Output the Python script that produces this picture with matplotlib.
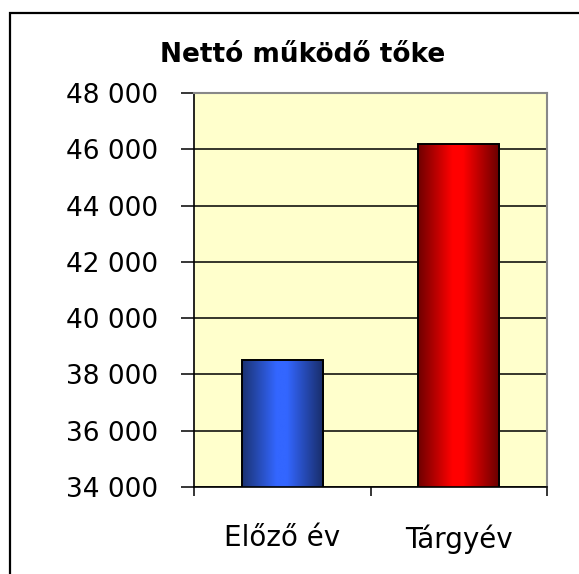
import matplotlib.pyplot as plt
import numpy as np
from matplotlib.colors import LinearSegmentedColormap
from matplotlib.patches import Rectangle

# adatok
categories = ['Előző év', 'Tárgyév']
values = [38530, 46180]
yticks = [34000, 36000, 38000, 40000, 42000, 44000, 46000, 48000]
ytick_labels = ['34 000', '36 000', '38 000', '40 000', '42 000', '44 000', '46 000', '48 000']
title = 'Nettó működő tőke'

# oszlop szinek (sotet szel, vilagos kozep)
bar_colors = [('#1b3372', '#3366ff', '#182c66'),
              ('#6e0000', '#ff0000', '#660000')]

plt.rcParams['font.family'] = ['DejaVu Sans']
fs = 19

fig = plt.figure(figsize=(5.79, 5.74), dpi=100)
ax = fig.add_axes([194/579, 87/574, 353/579, 394/574])
ax.set_facecolor('#ffffcc')

x = np.arange(len(categories))
bars = ax.bar(x, values, width=0.46, bottom=0, color='none',
              edgecolor='black', linewidth=1.4, zorder=3)

grad = np.linspace(0, 1, 256).reshape(1, -1)
for b, (c1, c2, c3) in zip(bars, bar_colors):
    cmap = LinearSegmentedColormap.from_list('g', [(0, c1), (0.42, c2), (0.55, c2), (1, c3)])
    x0, w = b.get_x(), b.get_width()
    im = ax.imshow(grad, cmap=cmap, aspect='auto', zorder=2,
                   extent=[x0, x0 + w, yticks[0], b.get_height()])
    im.set_clip_path(b)

ax.set_xlim(-0.5, len(categories) - 0.5)
ax.set_ylim(yticks[0], yticks[-1])

ax.set_yticks(yticks)
ax.set_yticklabels(ytick_labels, fontsize=fs)
ax.tick_params(axis='y', length=9.5, width=1.1, pad=16, direction='out')
ax.yaxis.grid(True, color='black', linewidth=1.1, zorder=1)
ax.set_axisbelow(True)

ax.set_xticks(np.arange(len(categories) + 1) - 0.5)
ax.set_xticklabels([])
ax.set_xticks(x, minor=True)
ax.set_xticklabels(categories, minor=True, fontsize=20)
ax.tick_params(axis='x', which='major', length=6.5, width=1.1, direction='out')
ax.tick_params(axis='x', which='minor', length=0, pad=27)

for s in ['left', 'bottom']:
    ax.spines[s].set_color('black')
    ax.spines[s].set_linewidth(1.2)
for s in ['top', 'right']:
    ax.spines[s].set_color('#888888')
    ax.spines[s].set_linewidth(1.5)

fig.text(302.5/579, (574-62)/574, title, fontsize=fs, fontweight='bold',
         ha='center', va='baseline')

# kulso keret
fig.patches.append(Rectangle((10/579, -0.1), 2, 1 - 13/574 + 0.1, fill=False,
                             edgecolor='black', linewidth=1.6,
                             transform=fig.transFigure, figure=fig))

fig.savefig('out.png', dpi=100)
